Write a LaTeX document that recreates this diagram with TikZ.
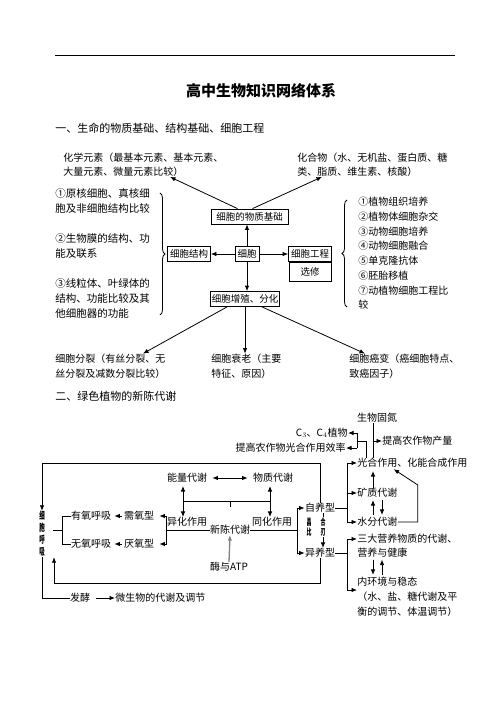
\documentclass[tikz,border=0pt]{standalone}
\usepackage{fontspec}
\usepackage{graphicx}
\setmainfont{Noto Sans CJK SC}
\usetikzlibrary{decorations.pathreplacing,arrows.meta}
\newcommand{\narrowch}[1]{\scalebox{0.55}[1]{#1}}

\begin{document}
\begin{tikzpicture}[x=1pt, y=-1pt, line width=0.8pt, >={Latex[length=5.5pt,width=4.5pt]},
	txt/.style={inner sep=0pt, align=left, font=\fontsize{10}{14.5}\selectfont},
	box/.style={draw, inner xsep=2.5pt, inner ysep=1pt, minimum height=15pt, font=\fontsize{9.5}{11}\selectfont},
	curly/.style={decorate, decoration={brace, amplitude=5pt}}]
	\useasboundingbox (0,0) rectangle (500,706);
	\draw[line width=0.6pt] (55,55) -- (455,55);
	\node[font=\bfseries\fontsize{15}{18}\selectfont] (title) at (261,91) {高中生物知识网络体系};
	\node[txt, font=\fontsize{11}{13}\selectfont, anchor=west] (sec1) at (55,128) {一、生命的物质基础、结构基础、细胞工程};
	% part one
	\node[txt, anchor=west] (huaxue) at (63,164.5) {化学元素（最基本元素、基本元素、\\大量元素、微量元素比较）};
	\node[txt, anchor=west] (huahe) at (297,164.5) {化合物（水、无机盐、蛋白质、糖\\类、脂质、维生素、核酸）};
	\node[box, minimum width=77pt] (wuzhi) at (249.5,216.5) {细胞的物质基础};
	\node[box] (xibao) at (247,254) {细胞};
	\node[box] (jiegou) at (189,254) {细胞结构};
	\node[box, minimum width=42pt] (gongcheng) at (310,254) {细胞工程};
	\node[box, minimum width=42pt, minimum height=19pt, anchor=north] (xuanxiu) at (gongcheng.south) {选修};
	\node[box, inner xsep=1pt] (zengzhi) at (245,299) {细胞增殖、分化};
	\draw[->] (xibao.north) -- (xibao.north |- wuzhi.south);
	\draw[->] (xibao.west) -- (jiegou.east);
	\draw[->] (xibao.east) -- (gongcheng.west);
	\draw[->] (xibao.south) -- (xibao.south |- zengzhi.north);
	\draw[->] ([xshift=-12pt]wuzhi.north) -- ([xshift=107pt]huaxue.south west);
	\draw[->] ([xshift=3pt]wuzhi.north) -- ([xshift=25pt]huahe.south west);
	\node[txt, font=\fontsize{10.5}{14.5}\selectfont, anchor=west] (yuanhe) at (55,201) {①原核细胞、真核细\\胞及非细胞结构比较};
	\node[txt, font=\fontsize{10.5}{14.5}\selectfont, anchor=west] (shengwumo) at (55,246) {②生物膜的结构、功\\能及联系};
	\node[txt, font=\fontsize{10.5}{15}\selectfont, anchor=west] (xianliti) at (55,298) {③线粒体、叶绿体的\\结构、功能比较及其\\他细胞器的功能};
	\draw[curly] (160,193) -- (160,315);
	\node[txt, font=\fontsize{10}{14.7}\selectfont, anchor=west] (gclist) at (358,253.5) {①植物组织培养\\②植物体细胞杂交\\③动物细胞培养\\④动物细胞融合\\⑤单克隆抗体\\⑥胚胎移植\\⑦动植物细胞工程比\\较};
	\draw[curly] (347,307) -- (347,200);
	\node[txt, anchor=west] (fenlie) at (55,366) {细胞分裂（有丝分裂、无\\丝分裂及减数分裂比较）};
	\node[txt, anchor=west] (shuailao) at (211,366) {细胞衰老（主要\\特征、原因）};
	\node[txt, anchor=west] (aibian) at (349,366) {细胞癌变（癌细胞特点、\\致癌因子）};
	\draw[->] ([xshift=-18pt]zengzhi.south) -- ([xshift=88pt]fenlie.north west);
	\draw[->] (zengzhi.south) -- (zengzhi.south |- shuailao.north);
	\draw[->] ([xshift=17pt]zengzhi.south) -- ([xshift=16pt]aibian.north west);
	% part two
	\node[txt, font=\fontsize{11}{13}\selectfont, anchor=west] (sec2) at (55,396) {二、绿色植物的新陈代谢};
	\node[txt] (guodan) at (377,418) {生物固氮};
	\node[txt, anchor=west] (chanliang) at (382,441) {提高农作物产量};
	\node[txt, anchor=east] (c34) at (348,433) {C$_3$、C$_4$植物};
	\node[txt, anchor=east] (xiaolv) at (346,448) {提高农作物光合作用效率};
	\node[txt, anchor=west] (guanghe) at (357,463) {光合作用、化能合成作用};
	\node[txt, anchor=west] (kuangzhi) at (357,493) {矿质代谢};
	\node[txt, anchor=west] (shuifen) at (357,522) {水分代谢};
	\node[txt, anchor=west] (sanda) at (357,539) {三大营养物质的代谢、};
	\node[txt, anchor=west] (jiankang) at (357,552.5) {营养与健康};
	\node[txt, anchor=west] (neihuan) at (357,582) {内环境与稳态};
	\node[txt, anchor=west] (tiaojie) at (357,597) {（水、盐、糖代谢及平};
	\node[txt, anchor=west] (tiaojieb) at (357,612) {衡的调节、体温调节）};
	\node[txt] (zhiyang) at (320,508) {自养型};
	\node[txt] (yiyang) at (320,553) {异养型};
	\node[txt] (nengliang) at (187,478) {能量代谢};
	\node[txt] (wuzhidx) at (273,478) {物质代谢};
	\node[txt] (yihua) at (187,522) {异化作用};
	\node[txt] (tonghua) at (272,522) {同化作用};
	\node[txt] (xinchen) at (230,530) {新陈代谢};
	\node[txt] (meiatp) at (229,567) {酶与ATP};
	\node[txt] (xuyang) at (139,516) {需氧型};
	\node[txt] (yanyang) at (139,544) {厌氧型};
	\node[txt] (youyang) at (91,516) {有氧呼吸};
	\node[txt] (wuyang) at (91,544) {无氧呼吸};
	\node[txt, align=center, font=\bfseries\fontsize{10}{12}\selectfont] (huxi) at (42,534) {\narrowch{细}\\\narrowch{胞}\\\narrowch{呼}\\\narrowch{吸}};
	\node[txt] (fajiao) at (80,598) {发酵};
	\node[txt, anchor=west] (weisheng) at (115,598) {微生物的代谢及调节};
	% fixation and photosynthesis
	\coordinate (gd) at ([xshift=-4pt]guodan.south);
	\draw (gd) -- (gd |- guanghe.north);
	\draw[->] (gd |- chanliang.west) -- (chanliang.west);
	\draw ([xshift=9pt]guanghe.north west) -- ++(0,-17) -- ++(-9,0) coordinate (gk);
	\draw (gk |- c34.east) -- (gk |- xiaolv.east);
	\draw[->] (gk |- c34.east) -- (c34.east);
	\draw[->] (gk |- xiaolv.east) -- (xiaolv.east);
	\draw (zhiyang.east) -- ++(12,0) coordinate (zb);
	\draw[->] (zb) |- (guanghe.west);
	\draw[->] (zb) |- (kuangzhi.west);
	\draw[->] (zb) |- (shuifen.west);
	\draw[->, shorten >=3pt] ([xshift=16pt]kuangzhi.north west) -- ([xshift=16pt]guanghe.south west);
	\draw[->, shorten >=2pt, shorten <=2pt] ([xshift=16pt]shuifen.north west) -- ([xshift=16pt]kuangzhi.south west);
	\draw[->, shorten >=2pt, shorten <=2pt] ([xshift=25pt]kuangzhi.south west) -- ([xshift=25pt]shuifen.north west);
	\draw[->, shorten >=2pt] (shuifen.east) -- ++(20,0) -- ++(0,-37) -- ([xshift=35pt]guanghe.south west);
	\draw (yiyang.east) -- ++(12,0) coordinate (yb);
	\draw[->] (yb) |- (sanda.west);
	\draw[->] (yb) |- ([yshift=-8pt]neihuan.west);
	\draw[->, shorten >=2pt, shorten <=2pt] ([xshift=16pt]jiankang.south west) -- ([xshift=16pt]neihuan.north west);
	\draw[->, shorten >=2pt, shorten <=2pt] ([xshift=25pt]neihuan.north west) -- ([xshift=25pt]jiankang.south west);
	% metabolism
	\draw[<->, shorten <=5pt, shorten >=5pt] (nengliang.east) -- (wuzhidx.west);
	\coordinate (fl) at (183,501);
	\coordinate (fr) at (270,501);
	\draw (fl) -- (fr);
	\draw (fl -| xinchen.north) -- ++(0,6);
	\draw[->, shorten >=3pt] (fl) -- (fl |- nengliang.south);
	\draw[->, shorten >=3pt] (fr) -- (fr |- wuzhidx.south);
	\draw[->] (fl) -- (fl |- yihua.north);
	\draw[->] (fr) -- (fr |- tonghua.north);
	\draw (xinchen.east) -- ++(47,0) coordinate (tb);
	\draw (xinchen.west) -- ++(-43,0) coordinate (hb);
	\draw[->] (tb) |- (zhiyang.west);
	\draw[->] (tb) |- (yiyang.west);
	\draw[->, shorten >=5pt] (hb) |- (xuyang.east);
	\draw[->, shorten >=5pt] (hb) |- (yanyang.east);
	\draw[->, shorten >=3pt, shorten <=2pt] (xuyang.west) -- (youyang.east);
	\draw[->, shorten >=3pt, shorten <=2pt] (yanyang.west) -- (wuyang.east);
	\draw (youyang.west) -- ++(-8,0) coordinate (hx) |- (wuyang.west);
	\draw (hx |- xinchen.west) -- ++(-10,0);
	\draw[->, gray, line width=1.3pt] (meiatp.north) -- (xinchen.south);
	\draw[->] ([xshift=3pt]zhiyang.south) -- ([xshift=3pt]yiyang.north);
	\node[txt, align=center, font=\bfseries\fontsize{9}{10.5}\selectfont] (zuo) at (309,527) {\narrowch{昌}\\\narrowch{比}};
	\node[txt, align=center, fill=white, font=\bfseries\fontsize{9}{10.5}\selectfont] (you) at (323,527) {\narrowch{合}\\\narrowch{刃}};
	% respiration loop
	\draw[->] (zhiyang.north) |- (huxi.north |- guanghe.west) -- (huxi.north);
	\draw[->] (yiyang.south) -- ++(0,25) -| ([xshift=12pt]huxi.south);
	\draw (huxi.south) |- (fajiao.west);
	\draw[->, shorten <=6pt] (fajiao.east) -- (weisheng.west);
\end{tikzpicture}
\end{document}
